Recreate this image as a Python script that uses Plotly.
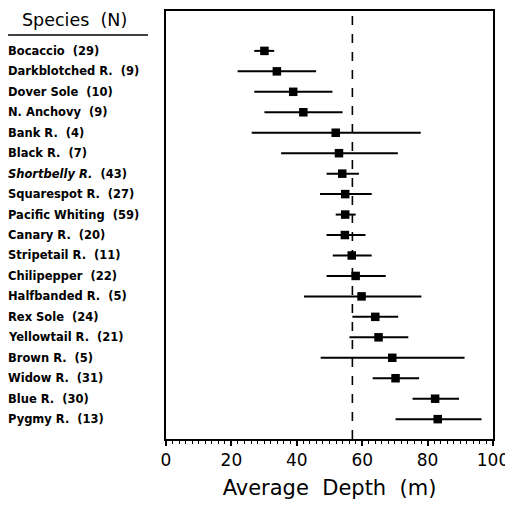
import plotly.graph_objects as go

species = ["Bocaccio", "Darkblotched R.", "Dover Sole", "N. Anchovy", "Bank R.",
           "Black R.", "Shortbelly R.", "Squarespot R.", "Pacific Whiting", "Canary R.",
           "Stripetail R.", "Chilipepper", "Halfbanded R.", "Rex Sole", "Yellowtail R.",
           "Brown R.", "Widow R.", "Blue R.", "Pygmy R."]
n_obs = [29, 9, 10, 9, 4, 7, 43, 27, 59, 20, 11, 22, 5, 24, 21, 5, 31, 30, 13]
mean_depth = [30.1, 33.9, 38.9, 42.0, 51.9, 52.9, 53.9, 54.8, 54.8, 54.7,
              56.8, 58.0, 59.8, 64.0, 65.0, 69.2, 70.2, 82.3, 83.1]
lower = [27.0, 21.9, 27.0, 30.1, 26.2, 35.2, 49.1, 47.1, 51.9, 49.1,
         51.0, 49.1, 42.2, 57.0, 56.1, 47.3, 63.2, 75.4, 70.2]
upper = [33.1, 45.9, 50.9, 54.0, 77.9, 70.9, 59.0, 62.9, 58.0, 61.0,
         62.9, 67.2, 78.1, 71.0, 74.1, 91.3, 77.4, 89.6, 96.5]
overall_mean = 57
italic_species = ["Shortbelly R."]

err_plus = [u - m for u, m in zip(upper, mean_depth)]
err_minus = [m - l for m, l in zip(mean_depth, lower)]

WIDE = "DejaVu Sans"

fig = go.Figure()
fig.add_trace(go.Scatter(
    x=mean_depth, y=species, mode="markers",
    marker=dict(symbol="square", size=8.5, color="black"),
    error_x=dict(type="data", symmetric=False, array=err_plus, arrayminus=err_minus,
                 color="black", thickness=2, width=0),
    showlegend=False, hoverinfo="skip",
))

fig.add_shape(type="line", x0=overall_mean, x1=overall_mean, xref="x",
              y0=0, y1=1, yref="paper",
              line=dict(color="black", width=1.6, dash="dash"))

for s, n in zip(species, n_obs):
    txt = f"{s}  ({n})"
    if s in italic_species:
        txt = f"<i>{s}</i>  ({n})"
    fig.add_annotation(x=-0.489, xref="paper", y=s, yref="y", text=txt,
                       xanchor="left", yanchor="middle", showarrow=False,
                       font=dict(family=WIDE, size=11.5, color="black", weight="bold"))

fig.add_annotation(x=-0.447, xref="paper", y=0.978, yref="paper", text="Species  (N)",
                   xanchor="left", yanchor="middle", showarrow=False,
                   font=dict(family=WIDE, size=17.5, color="black"))
fig.add_shape(type="line", xref="paper", yref="paper", x0=-0.483, x1=-0.055,
              y0=0.944, y1=0.944, line=dict(color="black", width=1.5))

fig.update_layout(
    width=505, height=492,
    margin=dict(l=158, r=20, t=1, b=61),
    paper_bgcolor="white", plot_bgcolor="white",
    font=dict(family=WIDE, color="black"),
    xaxis=dict(range=[0, 100], tickvals=[0, 20, 40, 60, 80, 100],
               showline=True, linecolor="black", linewidth=2, mirror=True,
               ticks="outside", ticklen=5, tickwidth=1.5, tickcolor="black",
               minor=dict(dtick=2, ticks="outside", ticklen=3, tickwidth=1, tickcolor="black"),
               showgrid=False, zeroline=False,
               tickfont=dict(family=WIDE, size=17, color="black"),
               title=dict(text="Average  Depth  (m)", standoff=13,
                          font=dict(family=WIDE, size=21, color="black"))),
    yaxis=dict(range=[18.97, -1.95], showticklabels=False, ticks="",
               showline=True, linecolor="black", linewidth=2, mirror=True,
               showgrid=False, zeroline=False),
)

fig.write_html("out.html")
